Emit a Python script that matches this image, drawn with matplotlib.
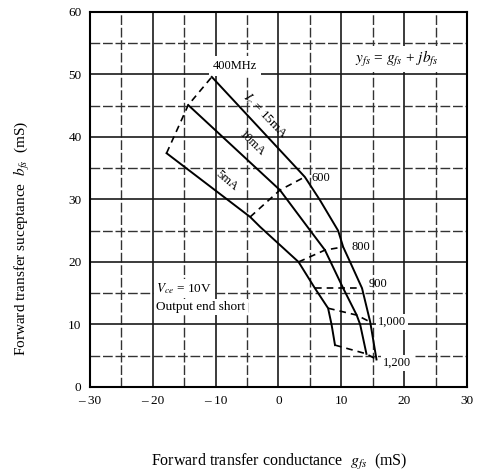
import numpy as np
import matplotlib.pyplot as plt

plt.rcParams['font.family'] = ['Liberation Serif', 'DejaVu Serif']
plt.rcParams['mathtext.fontset'] = 'stix'

# frequency marks along each collector-current curve
freqs = ['400MHz', '600', '800', '900', '1,000', '1,200']

g_5mA = [-17.8, -4.5, 3.2, 5.8, 7.9, 9.0]
b_5mA = [37.4, 27.2, 20.0, 15.8, 12.6, 6.7]

g_10mA = [-14.35, 0.24, 7.4, 10.3, 12.45, 14.0]
b_10mA = [45.1, 31.5, 21.9, 15.8, 11.5, 5.3]

g_15mA = [-10.6, 4.2, 10.3, 13.3, 14.6, 15.6]
b_15mA = [49.6, 33.6, 22.4, 15.8, 10.4, 4.4]

# curve traces (including the marks above)
trace_5mA_g = [-17.8, -4.5, -2.9, 3.2, 5.8, 7.9, 8.45, 9.0]
trace_5mA_b = [37.4, 27.2, 25.6, 20.0, 15.8, 12.6, 10.0, 6.7]

trace_10mA_g = [-14.35, 0.24, 5.0, 7.4, 8.3, 10.3, 12.45, 13.0, 14.0]
trace_10mA_b = [45.1, 31.5, 25.1, 21.9, 20.0, 15.8, 11.5, 10.0, 5.3]

trace_15mA_g = [-10.6, 4.2, 6.6, 9.5, 10.3, 11.4, 13.3, 14.6, 15.6]
trace_15mA_b = [49.6, 33.6, 29.9, 25.0, 22.4, 20.0, 15.8, 10.4, 4.4]

marks = [(g_5mA, b_5mA), (g_10mA, b_10mA), (g_15mA, b_15mA)]
traces = [(trace_5mA_g, trace_5mA_b), (trace_10mA_g, trace_10mA_b),
          (trace_15mA_g, trace_15mA_b)]

x_ticks = [-30, -20, -10, 0, 10, 20, 30]
x_ticklabels = ['– 30', '– 20', '– 10', '0', '10', '20', '30']
y_ticks = [0, 10, 20, 30, 40, 50, 60]

fig = plt.figure(figsize=(4.78, 4.76), dpi=100)
ax = fig.add_axes([0.188, 0.187, 0.789, 0.788])

ax.set_xlim(-30, 30)
ax.set_ylim(0, 60)

# grid: solid every 10, dashed every 5
for v in range(-25, 30, 5):
    if v % 10 == 0:
        ax.axvline(v, color='#1a1a1a', lw=1.2, zorder=1)
    else:
        ax.axvline(v, color='#333333', lw=1.0, ls=(0, (7, 2)), zorder=1)
for v in range(5, 60, 5):
    if v % 10 == 0:
        ax.axhline(v, color='#1a1a1a', lw=1.2, zorder=1)
    else:
        ax.axhline(v, color='#333333', lw=1.0, ls=(0, (7, 2)), zorder=1)

# constant-current curves
for g, b in traces:
    ax.plot(g, b, color='black', lw=1.4, zorder=3)

# constant-frequency loci (dashed)
for i in range(len(freqs)):
    gs = [m[0][i] for m in marks]
    bs = [m[1][i] for m in marks]
    ax.plot(gs, bs, color='black', lw=1.2, ls=(0, (4, 3)), zorder=3)

def wbox(p):
    return dict(facecolor='white', edgecolor='none', pad=p)

fs = 9
ax.text(-10.4, 51.3, '400MHz', fontsize=fs, ha='left', va='center',
        bbox=wbox(3.0), zorder=2)
ax.text(5.3, 33.4, '600', fontsize=fs, ha='left', va='center', zorder=4)
ax.text(11.6, 22.4, '800', fontsize=fs, ha='left', va='center', zorder=4)
ax.text(14.3, 16.4, '900', fontsize=fs, ha='left', va='center', zorder=4)
ax.text(15.8, 10.4, '1,000', fontsize=fs, ha='left', va='center',
        bbox=wbox(1.5), zorder=2)
ax.text(16.6, 3.8, '1,200', fontsize=fs, ha='left', va='center',
        bbox=wbox(1.5), zorder=2)

ax.text(-2.0, 43.4, r'$I_c$ = 15mA', fontsize=9.5, rotation=-46,
        ha='center', va='center', zorder=4)
ax.text(-4.2, 39.0, '10mA', fontsize=9, rotation=-44,
        ha='center', va='center', zorder=4)
ax.text(-8.2, 33.0, '5mA', fontsize=9, rotation=-40,
        ha='center', va='center', zorder=4)

ax.text(18.8, 52.5, r'$y_{fs}$ = $g_{fs}$ + $jb_{fs}$', fontsize=11,
        ha='center', va='center', bbox=wbox(2.0), zorder=2)

ax.text(-19.4, 15.8, '$V_{ce}$ = 10V', fontsize=9.5,
        ha='left', va='center', bbox=wbox(1.5), zorder=2)
ax.text(-19.4, 12.8, 'Output end short', fontsize=9.5,
        ha='left', va='center', bbox=wbox(1.5), zorder=2)

ax.set_xticks(x_ticks)
ax.set_xticklabels(x_ticklabels)
ax.set_yticks(y_ticks)
ax.tick_params(length=0, labelsize=9.5, pad=6)

for s in ax.spines.values():
    s.set_linewidth(1.5)
    s.set_color('black')
    s.set_zorder(5)

fig.text(0.585, 0.03, 'Forward transfer conductance  $g_{fs}$  (mS)', fontsize=11.5,
         ha='center', va='center')
fig.text(0.046, 0.5, 'Forward transfer suceptance  $b_{fs}$  (mS)', fontsize=11,
         ha='center', va='center', rotation=90)

fig.savefig('out.png', dpi=100)
